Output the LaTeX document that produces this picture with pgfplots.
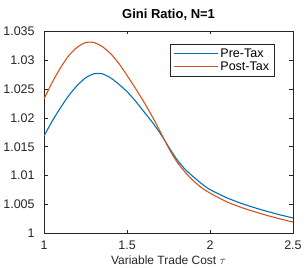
\documentclass[border=0pt]{standalone}
\usepackage{pgfplots}
\pgfplotsset{compat=1.18}
\usepackage{fontspec}
\setmainfont{Liberation Sans}
\definecolor{mblue}{rgb}{0,0.447,0.741}
\definecolor{morange}{rgb}{0.85,0.325,0.098}
\definecolor{axgray}{rgb}{0.15,0.15,0.15}
\begin{document}
\begin{tikzpicture}
\begin{axis}[
  scale only axis,
  width=248bp, height=202bp,
  xmin=1, xmax=2.5, ymin=1, ymax=1.035,
  xtick={1,1.5,2,2.5},
  xticklabels={1,1.5,2,2.5},
  ytick={1,1.005,1.01,1.015,1.02,1.025,1.03,1.035},
  yticklabels={1,1.005,1.01,1.015,1.02,1.025,1.03,1.035},
  tick align=inside,
  major tick length=3.5bp,
  axis line style={axgray, line width=0.5pt},
  every tick/.style={axgray, line width=0.5pt},
  tick label style={font=\fontsize{12.5}{14}\selectfont, text=axgray},
  yticklabel style={xshift=-6bp},
  xticklabel style={yshift=-4bp},
  title={\rule{0pt}{15bp}\textbf{Gini Ratio, N=1}},
  title style={font=\fontsize{13}{15}\selectfont, yshift=1bp},
  xlabel={Variable Trade Cost $\tau$},
  xlabel style={font=\fontsize{12}{14}\selectfont, text=axgray, yshift=1bp},
  legend style={at={(0.925,0.936)}, anchor=north east, draw=axgray, line width=0.5pt,
    font=\fontsize{12.5}{14}\selectfont, inner xsep=3bp, inner ysep=2.5bp, row sep=-1pt},
  legend cell align=left,
  legend image post style={line width=1.1pt},
  legend image code/.code={\draw[#1] (0bp,0bp) -- (44bp,0bp);},
]
\addplot[mblue, line width=1.1pt, smooth, tension=0.4] coordinates {
(1.00,1.0169) (1.05,1.0195) (1.10,1.0218) (1.15,1.0239) (1.20,1.0256)
(1.25,1.0269) (1.30,1.0276) (1.35,1.0276) (1.40,1.0269) (1.45,1.0258)
(1.50,1.0245) (1.55,1.0229) (1.60,1.0211) (1.65,1.0193) (1.70,1.0173)
(1.75,1.0150) (1.80,1.0128) (1.85,1.0111) (1.90,1.0098) (1.95,1.0086)
(2.00,1.0076) (2.10,1.0062) (2.20,1.0051) (2.30,1.0042) (2.40,1.0034)
(2.50,1.0027)};
\addlegendentry{Pre-Tax}
\addplot[morange, line width=1.1pt, smooth, tension=0.4] coordinates {
(1.00,1.0233) (1.05,1.0262) (1.10,1.0287) (1.15,1.0308) (1.20,1.0322)
(1.25,1.0330) (1.30,1.0330) (1.35,1.0323) (1.40,1.0311) (1.45,1.0294)
(1.50,1.0273) (1.55,1.0251) (1.60,1.0228) (1.65,1.0203) (1.70,1.0176)
(1.75,1.0148) (1.80,1.0124) (1.85,1.0106) (1.90,1.0091) (1.95,1.0079)
(2.00,1.0070) (2.10,1.0055) (2.20,1.0044) (2.30,1.0035) (2.40,1.0027)
(2.50,1.0020)};
\addlegendentry{Post-Tax}
\end{axis}
\end{tikzpicture}
\end{document}
